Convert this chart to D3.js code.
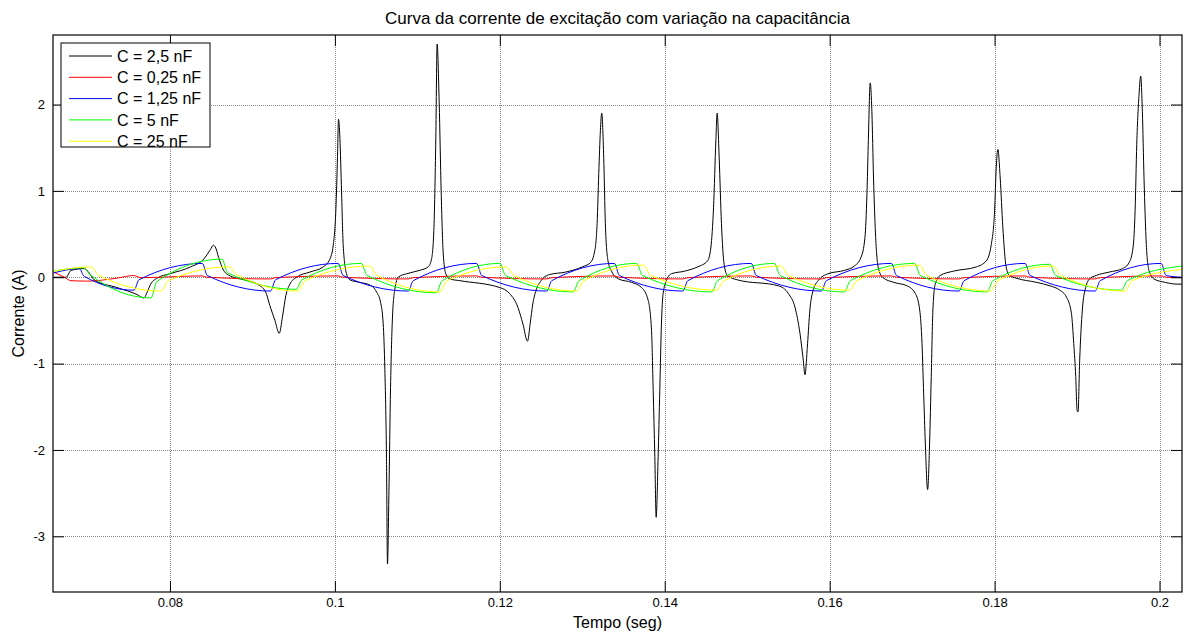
<!DOCTYPE html>
<html>
<head>
<meta charset="utf-8">
<script src="https://cdn.jsdelivr.net/npm/d3@7"></script>
<style>
  html, body { margin: 0; padding: 0; background: #fff; }
  svg { display: block; font-family: "Liberation Sans", Arial, Helvetica, sans-serif; }
</style>
</head>
<body>
<svg id="chart" width="1184" height="637"></svg>
<script>
// ── Data ──────────────────────────────────────────────────
const xTicks = [0.08, 0.1, 0.12, 0.14, 0.16, 0.18, 0.2];
const yTicks = [-3, -2, -1, 0, 1, 2];

const seriesNames  = ['C = 2,5 nF', 'C = 0,25 nF', 'C = 1,25 nF', 'C = 5 nF', 'C = 25 nF'];
const seriesColors = ['#000000', '#ff0000', '#0000ff', '#00ff00', '#ffff00'];

// [tempo (s), corrente (A)]
const c2_5nF = [
  [0.0659,0.00],[0.0674,0.00],[0.0680,0.08],[0.0696,0.10],[0.0702,0.05],[0.0708,-0.03],[0.0736,-0.12],[0.0760,-0.20],
  [0.07685,-0.24],[0.07725,-0.17],[0.07766,-0.08],[0.07846,-0.01],[0.0800,0.04],[0.0825,0.12],[0.0841,0.21],[0.0849,0.32],
  [0.08525,0.37],[0.0855,0.35],[0.0859,0.23],[0.0865,0.08],[0.0874,0.01],[0.0890,-0.03],[0.0906,-0.08],[0.0916,-0.17],
  [0.09212,-0.33],[0.09273,-0.50],[0.09325,-0.65],[0.09366,-0.45],[0.09406,-0.21],[0.09455,-0.08],[0.09535,0.00],
  [0.09697,0.06],[0.09859,0.12],[0.09939,0.21],[0.0998,0.37],[0.10012,0.78],[0.10032,1.40],[0.10044,1.83],[0.10061,1.61],
  [0.10081,0.99],[0.10101,0.37],[0.10141,0.04],[0.10182,-0.03],[0.10303,-0.06],[0.10424,-0.09],[0.10505,-0.17],
  [0.10554,-0.29],[0.10586,-0.54],[0.10606,-1.07],[0.10626,-2.10],[0.10638,-3.32],[0.10655,-2.52],[0.10675,-1.28],
  [0.10699,-0.45],[0.10727,-0.14],[0.10768,0.00],[0.10869,0.04],[0.1103,0.08],[0.11131,0.12],[0.11172,0.21],[0.1120,0.54],
  [0.11224,1.61],[0.1124,2.70],[0.11265,2.02],[0.11289,0.99],[0.11313,0.29],[0.11345,0.04],[0.11394,-0.02],[0.11515,-0.04],
  [0.1200,-0.12],[0.1212,-0.19],[0.1222,-0.35],[0.1228,-0.54],[0.12336,-0.74],[0.12368,-0.54],[0.1240,-0.31],[0.1244,-0.15],
  [0.1250,-0.04],[0.1260,0.03],[0.1280,0.06],[0.1300,0.12],[0.1310,0.17],[0.13152,0.31],[0.1318,0.62],[0.1320,1.20],
  [0.1322,1.70],[0.13236,1.90],[0.1326,1.39],[0.1328,0.62],[0.13312,0.19],[0.1336,0.06],[0.1344,-0.02],[0.1360,-0.06],
  [0.1372,-0.12],[0.1380,-0.27],[0.1384,-0.62],[0.1386,-1.31],[0.1388,-2.08],[0.13896,-2.78],[0.1392,-2.08],[0.1394,-1.31],
  [0.1396,-0.54],[0.1398,-0.19],[0.1402,-0.04],[0.1408,0.04],[0.1424,0.07],[0.1440,0.12],[0.1452,0.19],[0.1456,0.35],
  [0.14592,0.81],[0.1462,1.58],[0.14636,1.90],[0.1466,1.39],[0.14688,0.62],[0.1472,0.15],[0.1476,0.02],[0.1488,-0.03],
  [0.1538,-0.10],[0.1550,-0.19],[0.1558,-0.35],[0.1564,-0.65],[0.1568,-0.96],[0.1570,-1.13],[0.15732,-0.77],[0.1576,-0.38],
  [0.1580,-0.15],[0.1586,-0.04],[0.1598,0.04],[0.1618,0.08],[0.1630,0.13],[0.1638,0.23],[0.16428,0.46],[0.16452,0.96],
  [0.16468,1.54],[0.16492,2.25],[0.16512,1.92],[0.16532,1.15],[0.16556,0.50],[0.16588,0.12],[0.1664,0.00],[0.1678,-0.06],
  [0.1694,-0.10],[0.1704,-0.19],[0.17092,-0.38],[0.1712,-0.77],[0.1714,-1.35],[0.1716,-1.92],[0.17188,-2.46],[0.17212,-1.92],
  [0.17232,-1.15],[0.17252,-0.38],[0.1728,-0.08],[0.1734,0.02],[0.1750,0.07],[0.1778,0.12],[0.1790,0.19],[0.1796,0.38],
  [0.1800,0.77],[0.1802,1.27],[0.1804,1.48],[0.18068,1.15],[0.1810,0.58],[0.1814,0.12],[0.1818,0.02],[0.1826,-0.01],
  [0.18512,-0.06],[0.18672,-0.10],[0.18792,-0.15],[0.18872,-0.23],[0.18932,-0.42],[0.1896,-0.77],[0.18984,-1.15],[0.1900,-1.54],
  [0.19012,-1.56],[0.19032,-0.96],[0.19064,-0.38],[0.19104,-0.12],[0.19152,-0.02],[0.19232,0.02],[0.19392,0.06],[0.19552,0.10],
  [0.19632,0.17],[0.1968,0.35],[0.19704,0.77],[0.19724,1.54],[0.19752,2.12],[0.19772,2.33],[0.19792,1.92],[0.19812,1.15],
  [0.1984,0.38],[0.19872,0.08],[0.19932,-0.02],[0.20072,-0.06],[0.20212,-0.08],[0.2027,-0.08]
];

const c0_25nF = [
  [0.0659,0.06],[0.0672,0.00],[0.0680,-0.04],[0.0700,-0.045],[0.0736,-0.01],[0.0756,0.02],[0.0765,-0.005],
  [0.0839,0.015],[0.0845,0.00],[0.0922,-0.02],[0.0928,-0.005],[0.1004,0.015],[0.1010,0.00],[0.1089,-0.02],[0.1095,-0.005],
  [0.1172,0.015],[0.1178,0.00],[0.1257,-0.02],[0.1263,-0.005],[0.1339,0.015],[0.1345,0.00],[0.1422,-0.02],[0.1428,-0.005],
  [0.1505,0.015],[0.1511,0.00],[0.1590,-0.02],[0.1596,-0.005],[0.1675,0.015],[0.1681,0.00],[0.1757,-0.02],[0.1763,-0.005],
  [0.1837,0.015],[0.1843,0.00],[0.1922,-0.02],[0.1928,-0.005],[0.2002,0.015],[0.2008,0.00],[0.2027,-0.005]
];

const c1_25nF = [
  [0.0659,0.05],[0.0690,0.10],[0.0696,0.01],[0.07564,-0.15],[0.07624,-0.03],[0.08392,0.16],[0.08453,0.02],
  [0.0922,-0.16],[0.0928,-0.03],[0.1004,0.16],[0.1010,0.02],[0.1089,-0.16],[0.1095,-0.04],[0.1172,0.16],[0.1178,0.02],
  [0.1257,-0.16],[0.1263,-0.04],[0.1339,0.16],[0.1345,0.02],[0.1422,-0.16],[0.1428,-0.04],[0.1505,0.16],[0.1511,0.02],
  [0.1590,-0.16],[0.1596,-0.04],[0.1675,0.16],[0.1681,0.02],[0.1757,-0.16],[0.1763,-0.04],[0.1837,0.16],[0.1843,0.02],
  [0.1922,-0.16],[0.1928,-0.04],[0.2002,0.16],[0.2008,0.02],[0.2027,0.00]
];

const c5nF = [
  [0.0659,0.07],[0.0695,0.11],[0.0703,0.03],[0.0777,-0.24],[0.0784,-0.05],[0.0863,0.21],[0.0870,0.05],
  [0.0953,-0.14],[0.0960,-0.03],[0.1032,0.16],[0.1039,0.02],[0.1123,-0.18],[0.1130,-0.04],[0.1200,0.16],[0.1207,0.02],
  [0.1289,-0.17],[0.1296,-0.04],[0.1366,0.16],[0.1373,0.02],[0.1457,-0.17],[0.1464,-0.04],[0.1533,0.16],[0.1540,0.02],
  [0.1618,-0.17],[0.1625,-0.04],[0.1703,0.16],[0.1710,0.02],[0.1791,-0.17],[0.1798,-0.04],[0.1867,0.15],[0.1874,0.02],
  [0.1954,-0.15],[0.1961,-0.04],[0.2027,0.13]
];

const c25nF = [
  [0.0659,0.07],[0.0704,0.12],[0.0714,0.02],[0.0789,-0.16],[0.0798,-0.04],[0.0872,0.12],[0.0881,0.03],
  [0.0955,-0.16],[0.0964,-0.04],[0.1042,0.13],[0.1051,0.02],[0.1127,-0.17],[0.1136,-0.04],[0.1208,0.12],[0.1217,0.02],
  [0.1293,-0.16],[0.1302,-0.04],[0.1374,0.14],[0.1383,0.02],[0.1463,-0.15],[0.1472,-0.04],[0.1541,0.13],[0.1550,0.02],
  [0.1624,-0.15],[0.1633,-0.04],[0.1709,0.14],[0.1718,0.02],[0.1795,-0.16],[0.1804,-0.04],[0.1871,0.13],[0.1880,0.02],
  [0.1958,-0.16],[0.1967,-0.04],[0.2027,0.09]
];

const seriesData = [c2_5nF, c0_25nF, c1_25nF, c5nF, c25nF];

// ── Layout ────────────────────────────────────────────────
const W = 1184, H = 637;
const M = { top: 35, right: 2, bottom: 45, left: 53 };
const PW = W - M.left - M.right;
const PH = H - M.top - M.bottom;

const x = d3.scaleLinear().domain([0.065818, 0.202727]).range([0, PW]);
const y = d3.scaleLinear().domain([-3.645, 2.805]).range([PH, 0]);

const svg = d3.select('#chart');
const g = svg.append('g').attr('transform', `translate(${M.left},${M.top})`);

g.append('rect').attr('width', PW).attr('height', PH).attr('fill', '#fff');

// Grid (dotted, MATLAB style)
g.append('g').selectAll('line').data(xTicks).join('line')
  .attr('x1', d => Math.round(x(d)) + 0.5).attr('x2', d => Math.round(x(d)) + 0.5)
  .attr('y1', 0).attr('y2', PH)
  .attr('stroke', '#8a8a8a').attr('stroke-width', 1).attr('stroke-dasharray', '1,1');
g.append('g').selectAll('line').data(yTicks).join('line')
  .attr('x1', 0).attr('x2', PW)
  .attr('y1', d => Math.round(y(d)) + 0.5).attr('y2', d => Math.round(y(d)) + 0.5)
  .attr('stroke', '#8a8a8a').attr('stroke-width', 1).attr('stroke-dasharray', '1,1');

// Curves
g.append('clipPath').attr('id', 'clip').append('rect').attr('width', PW).attr('height', PH);
const line = d3.line().x(d => x(d[0])).y(d => y(d[1])).curve(d3.curveMonotoneX);
g.append('g').attr('clip-path', 'url(#clip)')
  .selectAll('path').data(seriesData).join('path')
  .attr('d', line)
  .attr('fill', 'none')
  .attr('stroke', (d, i) => seriesColors[i])
  .attr('stroke-width', 1)
  .attr('stroke-linejoin', 'round');

// Axes (ticks inward, on all four sides)
const TK = 11;
const fmtY = d => String(d);   // plain hyphen, as MATLAB prints it
g.append('g').attr('transform', `translate(0,${PH})`)
  .call(d3.axisBottom(x).tickValues(xTicks).tickFormat(d => String(d)).tickSizeInner(-TK).tickSizeOuter(0).tickPadding(6));
g.append('g')
  .call(d3.axisLeft(y).tickValues(yTicks).tickFormat(fmtY).tickSizeInner(-TK).tickSizeOuter(0).tickPadding(8));
g.append('g').call(d3.axisTop(x).tickValues(xTicks).tickFormat('').tickSizeInner(-TK).tickSizeOuter(0));
g.append('g').attr('transform', `translate(${PW},0)`)
  .call(d3.axisRight(y).tickValues(yTicks).tickFormat('').tickSizeInner(-TK).tickSizeOuter(0));

g.selectAll('.domain').remove();
g.selectAll('.tick line').attr('stroke', '#000');
g.selectAll('.tick text').attr('font-size', 13).attr('fill', '#000')
  .attr('font-family', '"Liberation Sans", Arial, Helvetica, sans-serif');

g.append('rect').attr('width', PW).attr('height', PH)
  .attr('fill', 'none').attr('stroke', '#000').attr('stroke-width', 1.2);

// Titles
svg.append('text').attr('x', M.left + PW / 2).attr('y', 24)
  .attr('text-anchor', 'middle').attr('font-size', 17)
  .text('Curva da corrente de excitação com variação na capacitância');
svg.append('text').attr('x', M.left + PW / 2).attr('y', 628)
  .attr('text-anchor', 'middle').attr('font-size', 16)
  .text('Tempo (seg)');
svg.append('text')
  .attr('transform', `translate(24,${M.top + PH / 2}) rotate(-90)`)
  .attr('text-anchor', 'middle').attr('font-size', 16)
  .text('Corrente (A)');

// Legend
const lg = svg.append('g').attr('transform', 'translate(61,43)');
lg.append('rect').attr('width', 149).attr('height', 104)
  .attr('fill', '#fff').attr('stroke', '#000').attr('stroke-width', 1);
const rows = lg.selectAll('g.row').data(seriesNames).join('g')
  .attr('class', 'row')
  .attr('transform', (d, i) => `translate(0,${13 + i * 21.3})`);
rows.append('line').attr('x1', 8).attr('x2', 51)
  .attr('stroke', (d, i) => seriesColors[i]).attr('stroke-width', 1);
rows.append('text').attr('x', 56).attr('dy', '0.36em').attr('font-size', 16).text(d => d);
</script>
</body>
</html>
